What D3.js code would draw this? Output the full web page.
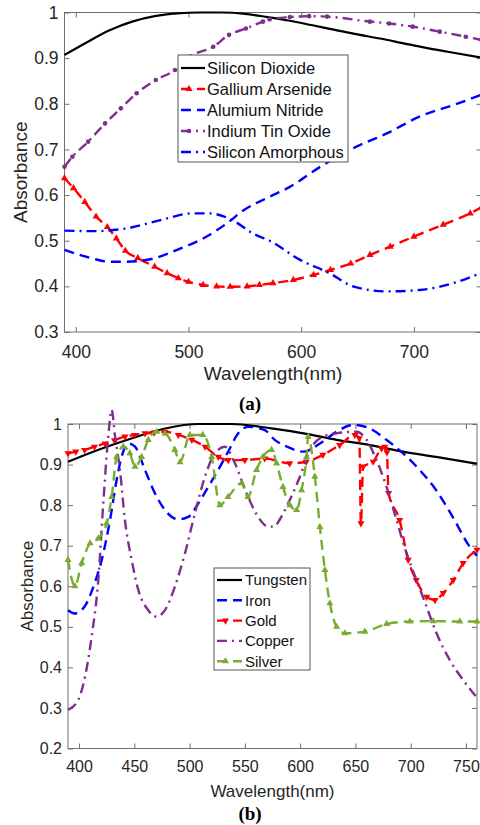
<!DOCTYPE html>
<html>
<head>
<meta charset="utf-8">
<script src="https://cdn.jsdelivr.net/npm/d3@7"></script>
<style>
  body { margin: 0; background: #fff; }
  svg { display: block; font-family: "Liberation Sans", Arial, sans-serif; }
</style>
</head>
<body>
<svg id="chart" width="480" height="825"></svg>
<script>
// ---- panel (a) ----
const sio2Wl = [390, 410, 430, 450, 470, 490, 510, 530, 550, 570, 590, 610, 630, 650, 670, 690, 710, 730, 760];
const sio2Abs = [0.907, 0.935, 0.961, 0.98, 0.992, 0.998, 1.0, 1.0, 0.997, 0.99, 0.982, 0.972, 0.962, 0.952, 0.943, 0.933, 0.923, 0.914, 0.901];

const gaasWl = [390, 398, 408, 418, 428, 436, 444, 455, 470, 481, 491, 500, 513, 525, 537, 552, 563, 575, 593, 611, 626, 644, 661, 679, 700, 726, 750, 760];
const gaasAbs = [0.637, 0.615, 0.585, 0.553, 0.53, 0.505, 0.478, 0.462, 0.443, 0.429, 0.418, 0.41, 0.403, 0.4, 0.399, 0.4, 0.403, 0.407, 0.414, 0.425, 0.436, 0.45, 0.469, 0.487, 0.509, 0.535, 0.56, 0.573];

const alnWl = [390, 415, 430, 445, 469, 490, 513, 534, 549, 570, 590, 617, 649, 676, 705, 735, 760];
const alnAbs = [0.48, 0.461, 0.454, 0.454, 0.461, 0.48, 0.505, 0.538, 0.567, 0.594, 0.618, 0.662, 0.706, 0.735, 0.772, 0.797, 0.82];

const itoWl = [390, 397, 411, 426, 440, 454, 471, 488, 501, 522, 536, 551, 566, 572, 590, 607, 623, 661, 678, 699, 723, 746, 760];
const itoAbs = [0.662, 0.684, 0.717, 0.757, 0.79, 0.823, 0.852, 0.874, 0.903, 0.925, 0.951, 0.965, 0.98, 0.985, 0.99, 0.992, 0.991, 0.98, 0.976, 0.969, 0.958, 0.947, 0.94];

const siaWl = [390, 415, 445, 475, 504, 518, 539, 557, 572, 599, 625, 646, 676, 705, 735, 760];
const siaAbs = [0.522, 0.521, 0.527, 0.545, 0.56, 0.56, 0.545, 0.516, 0.5, 0.458, 0.429, 0.4, 0.389, 0.392, 0.407, 0.43];

const xTicksA = [400, 500, 600, 700];
const yTicksA = [0.3, 0.4, 0.5, 0.6, 0.7, 0.8, 0.9, 1];

// ---- panel (b) ----
const tungWl = [390, 417, 448, 478, 508, 538, 574, 603, 633, 663, 693, 723, 760];
const tungAbs = [0.907, 0.936, 0.965, 0.989, 1.0, 1.0, 0.989, 0.977, 0.961, 0.948, 0.932, 0.919, 0.902];

const ironWl = [390, 396, 405, 414, 420.5, 428, 434, 438.5, 444.5, 450.6, 459.6, 468.7, 477.7, 489.7, 498.8, 507.8, 516.9, 525.9, 534.9, 544, 553, 568, 577, 588, 603, 618, 633, 648, 663, 678, 693, 708, 723, 738, 753.5, 760];
const ironAbs = [0.541, 0.533, 0.55, 0.607, 0.665, 0.763, 0.862, 0.919, 0.952, 0.944, 0.887, 0.829, 0.788, 0.765, 0.771, 0.804, 0.845, 0.887, 0.932, 0.977, 0.993, 0.985, 0.961, 0.944, 0.932, 0.952, 0.981, 0.998, 0.989, 0.961, 0.928, 0.887, 0.837, 0.771, 0.697, 0.675];

const goldWl = [390, 397, 405, 414, 423.5, 432, 441.5, 450, 459.7, 468, 477.8, 489.8, 502, 514, 526, 535, 550, 568, 590.5, 605.5, 620.6, 635.7, 649.5, 653.5, 655, 657, 666, 673.6, 676.6, 678.5, 680, 690, 697.7, 705, 714.4, 722, 729.4, 738.5, 747.5, 760];
const goldAbs = [0.928, 0.932, 0.936, 0.944, 0.952, 0.96, 0.969, 0.973, 0.977, 0.979, 0.981, 0.973, 0.961, 0.944, 0.919, 0.911, 0.911, 0.915, 0.903, 0.907, 0.924, 0.948, 0.973, 0.965, 0.755, 0.895, 0.907, 0.94, 0.944, 0.93, 0.83, 0.763, 0.665, 0.615, 0.574, 0.566, 0.583, 0.615, 0.657, 0.69];

const copperWl = [390, 399.3, 405.4, 411.4, 417.4, 421.9, 426.4, 429.5, 432.5, 437, 441.5, 447.6, 453.6, 462.6, 470.2, 477.7, 486.7, 495.8, 504.8, 513.9, 522.9, 531.9, 541, 551.6, 562, 571.1, 575.6, 584.7, 590.7, 599.8, 608.8, 620.8, 633, 651, 660.1, 669.1, 678.2, 687.2, 696.3, 705.3, 714.3, 723.4, 735.4, 747.4, 760];
const copperAbs = [0.295, 0.32, 0.377, 0.476, 0.615, 0.804, 0.969, 1.035, 0.97, 0.887, 0.763, 0.665, 0.591, 0.541, 0.525, 0.541, 0.599, 0.681, 0.78, 0.87, 0.928, 0.944, 0.903, 0.829, 0.771, 0.747, 0.747, 0.78, 0.813, 0.87, 0.936, 0.969, 0.977, 0.981, 0.961, 0.911, 0.845, 0.763, 0.681, 0.615, 0.55, 0.484, 0.418, 0.369, 0.325];

const silverWl = [390, 396.3, 402.4, 410, 417.4, 425, 429.5, 434, 440, 446, 450.6, 456.6, 462.6, 470.2, 477.7, 486.7, 491.3, 500.3, 512, 520, 527.4, 534.7, 547, 552.7, 560.6, 566.3, 574.2, 578.7, 584.4, 590.7, 596.8, 601.3, 605.8, 607.3, 613.3, 617.9, 622.4, 626.9, 633, 640.5, 658.5, 678.2, 699.2, 720.3, 744.4, 760];
const silverAbs = [0.665, 0.6, 0.657, 0.706, 0.718, 0.755, 0.82, 0.919, 0.944, 0.928, 0.895, 0.919, 0.961, 0.981, 0.977, 0.936, 0.906, 0.973, 0.973, 0.919, 0.8, 0.82, 0.854, 0.82, 0.887, 0.919, 0.936, 0.903, 0.845, 0.8, 0.788, 0.837, 0.919, 0.969, 0.87, 0.746, 0.64, 0.558, 0.5, 0.484, 0.488, 0.507, 0.513, 0.514, 0.513, 0.513];

const xTicksB = [400, 450, 500, 550, 600, 650, 700, 750];
const yTicksB = [0.2, 0.3, 0.4, 0.5, 0.6, 0.7, 0.8, 0.9, 1];

const RED = "#ff0000", BLUE = "#0000ff", PURPLE = "#7e2f8e", GREEN = "#77ac30";
const DASH = "10,6";
const DASHDOT = "10,5,2,5";

const svg = d3.select("#chart");

function drawMarker(g, type, color, px, py) {
    if (type === "dot") {
        g.append("circle").attr("cx", px).attr("cy", py).attr("r", 2.3).attr("fill", color);
    } else if (type === "up" || type === "down") {
        g.append("path")
            .attr("d", d3.symbol(d3.symbolTriangle, 22)())
            .attr("transform", `translate(${px},${py})` + (type === "down" ? " rotate(180)" : ""))
            .attr("fill", color);
    }
}

function drawPanel(p) {
    const x = d3.scaleLinear().domain([390, 760]).range(p.xRange);
    const y = d3.scaleLinear().domain(p.yDomain).range(p.yRange);
    const [left, right] = p.xRange;
    const [bottom, top] = p.yRange;
    const g = svg.append("g");
    const axisColor = "#6e6e6e";

    // axes (ticks point inward)
    const bottomAxis = g.append("g")
        .attr("transform", `translate(0,${bottom})`)
        .call(d3.axisBottom(x).tickValues(p.xTicks).tickSizeInner(-5).tickSizeOuter(0).tickPadding(p.xPad));
    const topAxis = g.append("g")
        .attr("transform", `translate(0,${top})`)
        .call(d3.axisTop(x).tickValues(p.xTicks).tickSizeInner(-5).tickSizeOuter(0).tickFormat(""));
    const leftAxis = g.append("g")
        .attr("transform", `translate(${left},0)`)
        .call(d3.axisLeft(y).tickValues(p.yTicks).tickSizeInner(-5).tickSizeOuter(0).tickPadding(p.yPad).tickFormat(d => String(d)));
    const rightAxis = g.append("g")
        .attr("transform", `translate(${right},0)`)
        .call(d3.axisRight(y).tickValues(p.yTicks).tickSizeInner(-5).tickSizeOuter(0).tickFormat(""));

    for (const a of [bottomAxis, topAxis, leftAxis, rightAxis]) {
        a.select(".domain").remove();
        a.selectAll("line").attr("stroke", axisColor);
        a.selectAll("text")
            .attr("fill", "#262626")
            .style("font-size", p.tickSize + "px")
            .style("font-family", "'Liberation Sans', Arial, sans-serif");
    }

    g.append("rect")
        .attr("x", left).attr("y", top)
        .attr("width", right - left).attr("height", bottom - top)
        .attr("fill", "none").attr("stroke", axisColor).attr("stroke-width", 1);

    // series
    const line = d3.line()
        .x(d => x(d[0]))
        .y(d => y(d[1]))
        .curve(d3.curveMonotoneX);

    for (const s of p.series) {
        const pts = d3.zip(s.wl, s.abs);
        g.append("path")
            .datum(pts)
            .attr("d", line)
            .attr("fill", "none")
            .attr("stroke", s.color)
            .attr("stroke-width", s.dash ? 2.4 : 2.2)
            .attr("stroke-dasharray", s.dash);
        if (s.marker) {
            const mg = g.append("g");
            pts.forEach(d => drawMarker(mg, s.marker, s.color, x(d[0]), y(d[1])));
        }
    }

    // legend
    const L = p.legend;
    const lg = g.append("g");
    lg.append("rect")
        .attr("x", L.x).attr("y", L.y)
        .attr("width", L.w).attr("height", L.h)
        .attr("fill", "#fff").attr("stroke", "#555").attr("stroke-width", 1);
    p.series.forEach((s, i) => {
        const ry = L.row0 + i * L.rowH;
        lg.append("line")
            .attr("x1", L.lx0).attr("x2", L.lx1)
            .attr("y1", ry).attr("y2", ry)
            .attr("stroke", s.color)
            .attr("stroke-width", s.dash ? 2.4 : 2.2)
            .attr("stroke-dasharray", s.dash);
        if (s.marker) drawMarker(lg, s.marker, s.color, (L.lx0 + L.lx1) / 2 - 4, ry);
        lg.append("text")
            .attr("x", L.tx).attr("y", ry)
            .attr("dy", "0.36em")
            .attr("fill", "#111")
            .style("font-size", L.font + "px")
            .text(s.name);
    });

    // axis titles
    g.append("text")
        .attr("x", (left + right) / 2 + p.titleShift)
        .attr("y", p.xTitleY)
        .attr("text-anchor", "middle")
        .attr("fill", "#262626")
        .style("font-size", p.titleSize + "px")
        .text("Wavelength(nm)");

    g.append("text")
        .attr("transform", `translate(${p.yTitleX},${(top + bottom) / 2}) rotate(-90)`)
        .attr("text-anchor", "middle")
        .attr("fill", "#262626")
        .style("font-size", p.titleSize + "px")
        .text("Absorbance");

    g.append("text")
        .attr("x", 250)
        .attr("y", p.captionY)
        .attr("text-anchor", "middle")
        .attr("fill", "#000")
        .style("font-family", "'Liberation Serif', 'Times New Roman', serif")
        .style("font-weight", "bold")
        .style("font-size", "19px")
        .text(p.caption);
}

drawPanel({
    xRange: [64.5, 481.5],
    yRange: [332, 12.5],
    yDomain: [0.3, 1],
    xTicks: xTicksA,
    yTicks: yTicksA,
    xPad: 14,
    yPad: 6,
    tickSize: 17.5,
    titleSize: 19,
    titleShift: 0,
    xTitleY: 380,
    yTitleX: 27,
    caption: "(a)",
    captionY: 410,
    series: [
        { name: "Silicon Dioxide", wl: sio2Wl, abs: sio2Abs, color: "#000", dash: null, marker: null },
        { name: "Gallium Arsenide", wl: gaasWl, abs: gaasAbs, color: RED, dash: DASH, marker: "up" },
        { name: "Alumium Nitride", wl: alnWl, abs: alnAbs, color: BLUE, dash: DASH, marker: null },
        { name: "Indium Tin Oxide", wl: itoWl, abs: itoAbs, color: PURPLE, dash: DASHDOT, marker: "dot" },
        { name: "Silicon Amorphous", wl: siaWl, abs: siaAbs, color: BLUE, dash: DASHDOT, marker: null }
    ],
    legend: { x: 178, y: 55, w: 170, h: 107, row0: 68, rowH: 21, lx0: 181, lx1: 205, tx: 207, font: 16.5 }
});

drawPanel({
    xRange: [68, 477],
    yRange: [748.5, 424],
    yDomain: [0.2, 1],
    xTicks: xTicksB,
    yTicks: yTicksB,
    xPad: 12,
    yPad: 6,
    tickSize: 16,
    titleSize: 17,
    titleShift: 0,
    xTitleY: 797,
    yTitleX: 33,
    caption: "(b)",
    captionY: 820,
    series: [
        { name: "Tungsten", wl: tungWl, abs: tungAbs, color: "#000", dash: null, marker: null },
        { name: "Iron", wl: ironWl, abs: ironAbs, color: BLUE, dash: DASH, marker: null },
        { name: "Gold", wl: goldWl, abs: goldAbs, color: RED, dash: DASH, marker: "down" },
        { name: "Copper", wl: copperWl, abs: copperAbs, color: PURPLE, dash: DASHDOT, marker: null },
        { name: "Silver", wl: silverWl, abs: silverAbs, color: GREEN, dash: DASH, marker: "up" }
    ],
    legend: { x: 214, y: 568, w: 96, h: 102, row0: 580, rowH: 20.3, lx0: 217, lx1: 242, tx: 245, font: 15 }
});
</script>
</body>
</html>
